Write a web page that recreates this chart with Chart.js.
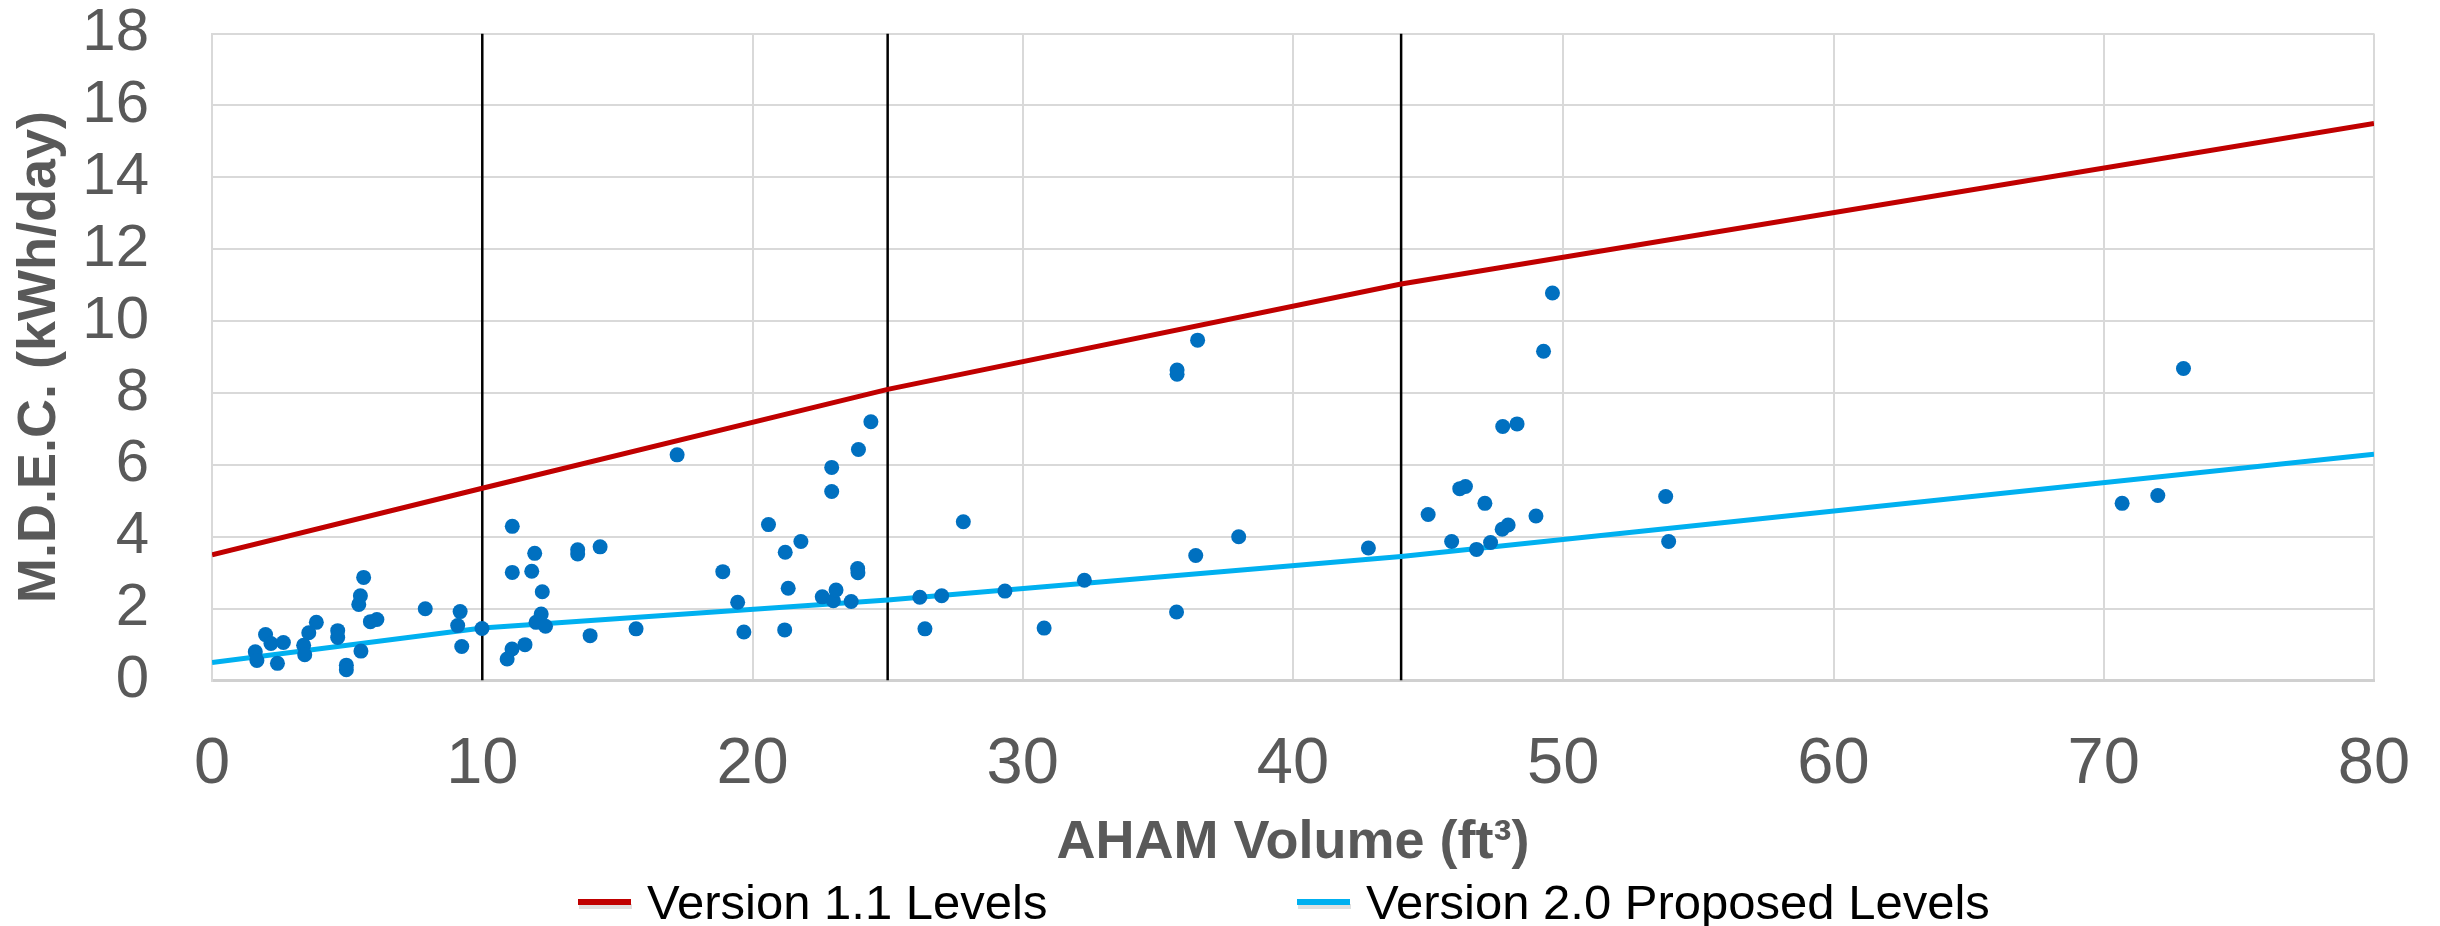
<!DOCTYPE html>
<html>
<head>
<meta charset="utf-8">
<title>M.D.E.C. vs AHAM Volume</title>
<script src="https://cdn.jsdelivr.net/npm/chart.js@4.4.1/dist/chart.umd.min.js"></script>
<style>
  html, body { margin: 0; padding: 0; background: #fff; }
  #wrap { width: 2440px; height: 926px; }
</style>
</head>
<body>
<div id="wrap"><canvas id="myChart"></canvas></div>
<script>
// measured products: AHAM volume (ft3) and M.D.E.C. (kWh/day)
const volume = [
  1.60, 1.66, 1.98, 2.18, 2.42, 2.64, 3.39, 3.43, 3.58, 3.86,
  4.65, 4.65, 4.97, 4.97, 5.51, 5.43, 5.49, 5.61, 5.86, 6.10,
  7.89, 9.09, 9.18, 9.24, 9.99,
  10.92, 11.10, 11.58, 11.11, 11.11, 11.83, 11.94, 12.22, 12.18, 11.99,
  12.34, 13.53, 13.53, 13.99, 14.36, 15.69, 17.21, 18.90, 19.45, 19.68,
  20.59, 21.21, 21.32, 21.19, 21.79, 22.58, 22.99, 23.09, 22.93, 22.93,
  23.65, 23.89, 23.90, 23.92, 24.38, 26.19, 26.38, 27.00, 27.80, 29.34,
  30.79, 32.28, 35.71, 35.71, 35.69, 36.47, 36.40, 37.99,
  42.79, 45.00, 45.87, 46.17, 46.38, 46.79, 47.10, 47.31, 47.74, 47.96,
  47.76, 48.29, 48.99, 49.27, 49.60,
  53.79, 53.90, 70.68, 72.00, 72.95
];
const mdec = [
  0.80, 0.56, 1.28, 1.03, 0.48, 1.06, 0.98, 0.72, 1.33, 1.62,
  1.39, 1.20, 0.43, 0.30, 0.82, 2.12, 2.36, 2.87, 1.64, 1.70,
  2.00, 1.53, 1.92, 0.95, 1.45,
  0.60, 0.88, 1.00, 4.29, 3.01, 3.04, 3.54, 2.47, 1.85, 1.62,
  1.51, 3.64, 3.52, 1.25, 3.72, 1.44, 6.28, 3.03, 2.18, 1.35,
  4.34, 3.57, 2.57, 1.41, 3.87, 2.33, 2.22, 2.52, 5.93, 5.26,
  2.20, 3.12, 3.00, 6.43, 7.20, 2.32, 1.44, 2.36, 4.42, 2.49,
  1.46, 2.79, 8.64, 8.52, 1.91, 9.47, 3.48, 4.00,
  3.69, 4.62, 3.87, 5.34, 5.40, 3.65, 4.93, 3.84, 4.21, 4.33,
  7.07, 7.14, 4.58, 9.16, 10.78,
  5.12, 3.87, 4.93, 5.15, 8.68
];

// level lines (break points of the piecewise limits)
const levelVolume = [0, 10, 25, 44, 80];
const v11Levels = [3.5, 5.35, 8.1, 11.03, 15.5];
const v20Levels = [0.5, 1.46, 2.24, 3.45, 6.3];

// size class dividers
const dividers = [10, 25, 44];

const xTickValues = [0, 10, 20, 30, 40, 50, 60, 70, 80];
const yTickValues = [0, 2, 4, 6, 8, 10, 12, 14, 16, 18];

const pairs = (xs, ys) => xs.map((x, i) => ({ x: x, y: ys[i] }));

const gray = "#595959";
const gridColor = "#D9D9D9";
const noColor = "rgba(0,0,0,0)";

const dividerSets = dividers.map((d) => ({
  label: "",
  type: "line",
  data: [{ x: d, y: yTickValues[0] }, { x: d, y: yTickValues[yTickValues.length - 1] }],
  borderColor: "#000000",
  borderWidth: 2.5,
  pointRadius: 0,
  fill: false,
  order: 5,
}));

// legend under the x axis title, laid out like the original
const legendSpots = [578, 1297];
const bottomLegend = {
  id: "bottomLegend",
  afterDraw(chart) {
    const ctx = chart.ctx;
    const items = chart.data.datasets.filter((ds) => ds.showInLegend);
    ctx.save();
    ctx.font = "49px 'Liberation Sans', Arial, sans-serif";
    ctx.textBaseline = "alphabetic";
    items.forEach((ds, i) => {
      const x = legendSpots[i];
      ctx.fillStyle = "rgba(0,0,0,0.12)";
      ctx.fillRect(x + 1, 904, 53, 5);
      ctx.fillStyle = ds.borderColor;
      ctx.fillRect(x, 899, 53, 6);
      ctx.fillStyle = "#000000";
      ctx.fillText(ds.label, x + 69, 919);
    });
    ctx.restore();
  },
};

const ctx = document.getElementById("myChart");
const myChart = new Chart(ctx, {
  type: "scatter",
  data: {
    datasets: [
      {
        label: "Products",
        data: pairs(volume, mdec),
        backgroundColor: "#0070C0",
        borderWidth: 0,
        pointRadius: 7.5,
        order: 1,
      },
      {
        label: "Version 1.1 Levels",
        type: "line",
        data: pairs(levelVolume, v11Levels),
        borderColor: "#C00000",
        borderWidth: 5,
        pointRadius: 0,
        fill: false,
        showInLegend: true,
        order: 2,
      },
      {
        label: "Version 2.0 Proposed Levels",
        type: "line",
        data: pairs(levelVolume, v20Levels),
        borderColor: "#00B0F0",
        borderWidth: 5,
        pointRadius: 0,
        fill: false,
        showInLegend: true,
        order: 3,
      },
      ...dividerSets,
    ],
  },
  options: {
    responsive: true,
    maintainAspectRatio: false,
    animation: false,
    layout: {
      padding: { left: 0, right: 66, top: 33.5, bottom: 50 },
    },
    plugins: {
      legend: { display: false },
      tooltip: { enabled: false },
    },
    scales: {
      x: {
        type: "linear",
        min: 0,
        max: 80,
        afterBuildTicks: (axis) => {
          axis.ticks = xTickValues.map((v) => ({ value: v }));
        },
        grid: { color: gridColor, lineWidth: 2, drawTicks: true, tickLength: 45, tickColor: noColor },
        border: { color: "#D0D0D0", width: 3 },
        ticks: {
          autoSkip: false,
          maxRotation: 0,
          padding: 0,
          color: gray,
          font: { family: "'Liberation Sans', Arial, sans-serif", size: 65 },
        },
        title: {
          display: true,
          text: "AHAM Volume (ft³)",
          color: gray,
          padding: { top: 7.6, bottom: 0 },
          font: { family: "'Liberation Sans', Arial, sans-serif", size: 54, weight: "bold" },
        },
      },
      y: {
        type: "linear",
        min: 0,
        max: 18,
        afterBuildTicks: (axis) => {
          axis.ticks = yTickValues.map((v) => ({ value: v }));
        },
        grid: { color: gridColor, lineWidth: 2, drawTicks: true, tickLength: 63, tickColor: noColor },
        border: { color: gridColor, width: 2 },
        ticks: {
          autoSkip: false,
          padding: 0,
          color: gray,
          font: { family: "'Liberation Sans', Arial, sans-serif", size: 60, lineHeight: 1.1 },
        },
        title: {
          display: true,
          text: "M.D.E.C. (kWh/day)",
          color: gray,
          padding: { top: 7.6, bottom: 9.9 },
          font: { family: "'Liberation Sans', Arial, sans-serif", size: 54, weight: "bold" },
        },
      },
    },
  },
  plugins: [bottomLegend],
});
</script>
</body>
</html>
